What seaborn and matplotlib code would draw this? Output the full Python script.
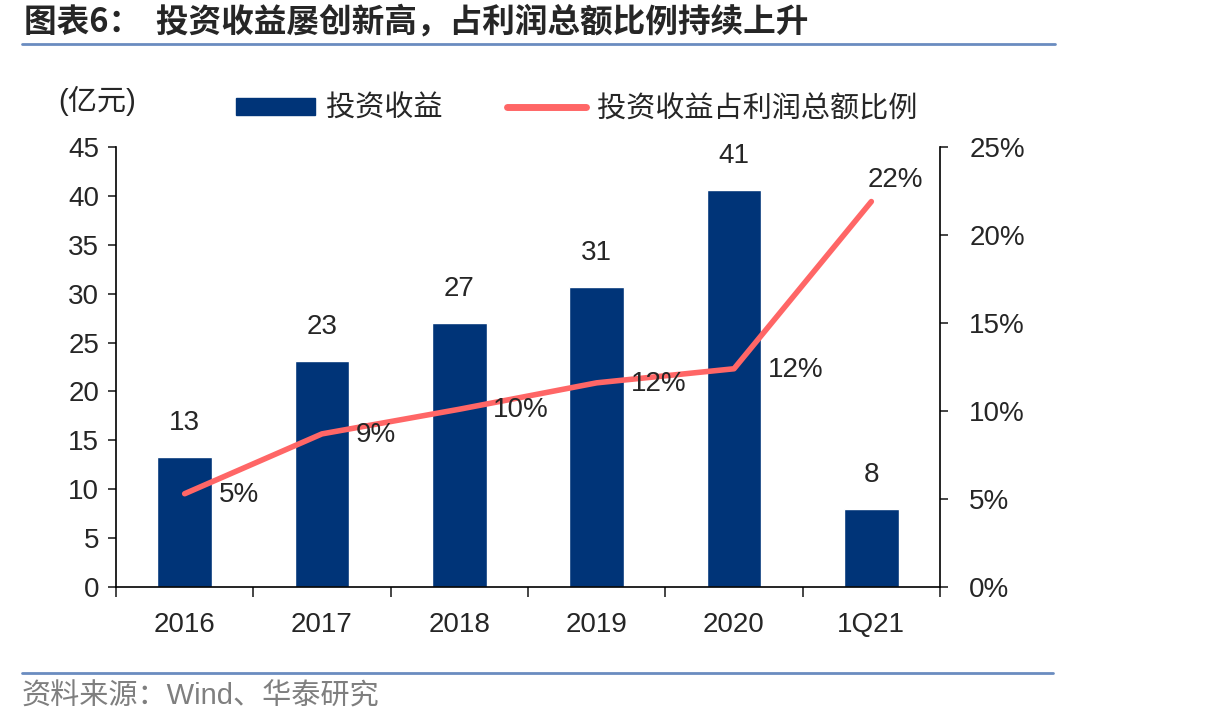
import matplotlib
matplotlib.use("Agg")
import matplotlib.pyplot as plt
import seaborn as sns
import numpy as np
from matplotlib.patches import Patch
from matplotlib.lines import Line2D

# ==============================================
# Data
# ==============================================
nam = ["2016", "2017", "2018", "2019", "2020", "1Q21"]
dau_tu = [13.3, 23.1, 27.0, 30.7, 40.6, 8.0]          # 投资收益 (亿元)
ti_le = [5.3, 8.7, 10.1, 11.6, 12.4, 21.9]            # 占利润总额比例 (%)

mau_cot = "#003478"
mau_duong = "#FF6666"
mau_vien = "#6A8CC0"

sns.set_style("ticks")
plt.rcParams["font.family"] = ["Liberation Sans", "Noto Sans CJK SC"]

fig = plt.figure(figsize=(12.06, 7.28), dpi=100)
ax = fig.add_axes([116 / 1206, 1 - 587 / 728, 824 / 1206, 440 / 728])

sns.barplot(x=nam, y=dau_tu, color=mau_cot, width=0.4, saturation=1, ax=ax)
ax.set_ylim(0, 45)
ax.set_xlim(-0.5, len(nam) - 0.5)
ax.set_yticks(np.arange(0, 46, 5))
ax.bar_label(ax.containers[0], labels=[f"{v:.0f}" for v in dau_tu], padding=15, fontsize=20)

ax2 = ax.twinx()
sns.lineplot(x=np.arange(len(nam)), y=ti_le, color=mau_duong, linewidth=4,
             solid_capstyle="round", ax=ax2)
ax2.set_ylim(0, 25)
ax2.set_yticks(np.arange(0, 26, 5))
ax2.set_yticklabels([f"{t}%" for t in range(0, 26, 5)])

for i, v in enumerate(ti_le):
    if i == len(ti_le) - 1:
        ax2.annotate(f"{v:.0f}%", (i, v), xytext=(24, 22), textcoords="offset pixels",
                     ha="center", va="center", fontsize=20)
    else:
        ax2.annotate(f"{v:.0f}%", (i, v), xytext=(34, -1), textcoords="offset pixels",
                     ha="left", va="center", fontsize=20)

# axes style
for a in (ax, ax2):
    a.spines["top"].set_visible(False)
    for s in a.spines.values():
        s.set_linewidth(1.2)
        s.set_color("black")
    a.set_xlabel("")
    a.set_ylabel("")
    a.grid(False)

ax.spines["right"].set_visible(False)
ax2.spines["left"].set_visible(False)
ax2.spines["bottom"].set_visible(False)

ax.tick_params(axis="y", direction="out", length=6, width=1.2, pad=6, labelsize=20)
ax2.tick_params(axis="y", direction="out", length=6, width=1.2, pad=15, labelsize=20)
ax.set_xticks(np.arange(-0.5, len(nam), 1), minor=True)
ax.tick_params(axis="x", which="major", length=0, pad=18, labelsize=20)
ax.tick_params(axis="x", which="minor", direction="out", length=7, width=1.2)

# legend
handles = [Patch(color=mau_cot), Line2D([], [], color=mau_duong, lw=5, solid_capstyle="round")]
fig.legend(handles, ["投资收益", "投资收益占利润总额比例"], loc="center left",
           bbox_to_anchor=(236 / 1206, 1 - 109 / 728), ncol=2, frameon=False,
           fontsize=21, handlelength=2.7, handleheight=0.55, handletextpad=0.4,
           columnspacing=2.2, borderpad=0, borderaxespad=0)
fig.text(58 / 1206, 1 - 101 / 728, "(亿元)", fontsize=21, va="center", ha="left")

# title + source
fig.text(24 / 1206, 1 - 22 / 728, "图表6：  投资收益屡创新高，占利润总额比例持续上升",
         fontsize=23.5, fontweight="bold", va="center", ha="left",
         family=["Noto Sans CJK SC"])
fig.add_artist(Line2D([22 / 1206, 1055 / 1206], [1 - 44 / 728, 1 - 44 / 728],
                      color=mau_vien, lw=2))
fig.add_artist(Line2D([22 / 1206, 1053 / 1206], [1 - 673 / 728, 1 - 673 / 728],
                      color=mau_vien, lw=2))
fig.text(22 / 1206, 1 - 697 / 728, "资料来源：Wind、华泰研究", fontsize=21,
         color="#7F7F7F", va="center", ha="left")

fig.savefig("out.png", dpi=100)
plt.close()
